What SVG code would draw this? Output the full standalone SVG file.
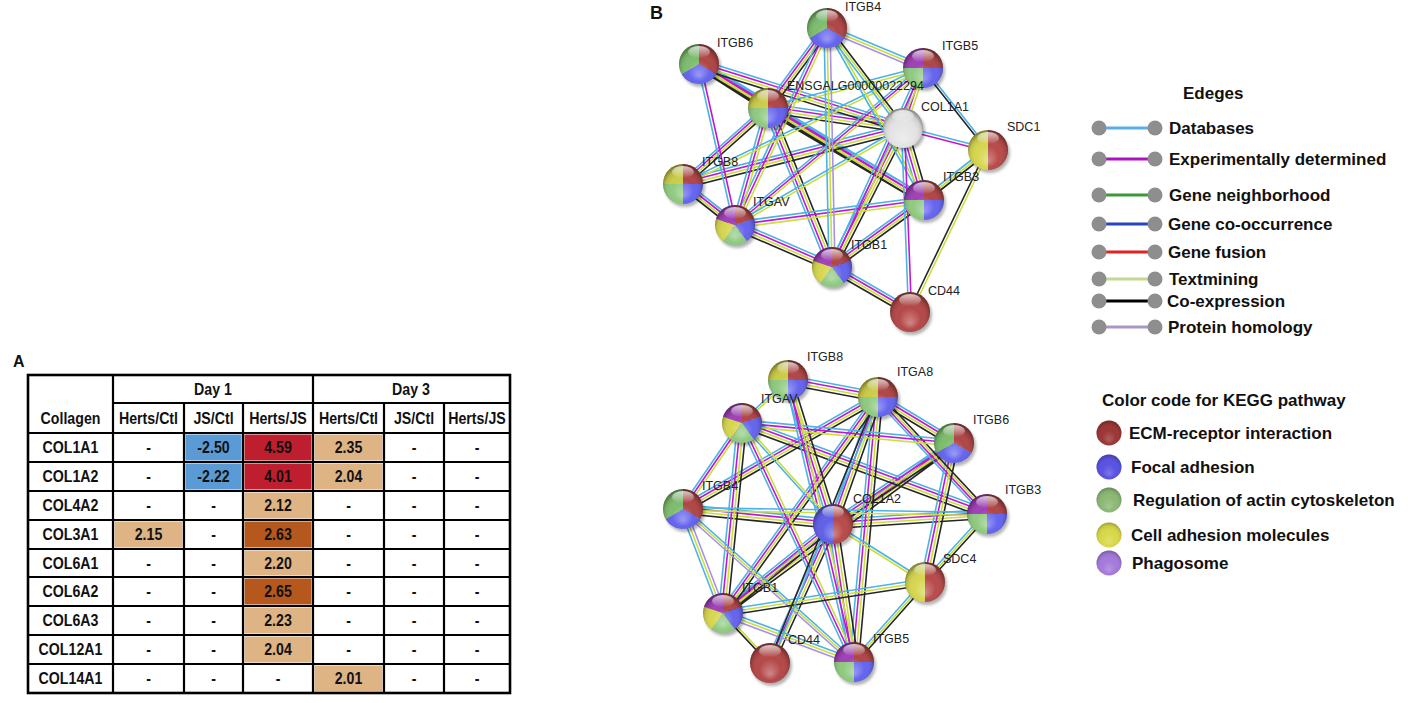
<svg xmlns="http://www.w3.org/2000/svg" xmlns:xlink="http://www.w3.org/1999/xlink" width="1408" height="703" viewBox="0 0 1408 703">
<style>
.t{font-family:"Liberation Sans",Arial,sans-serif;font-weight:bold;font-size:16.5px;fill:#111;text-anchor:middle}
.pl{font-family:"Liberation Sans",Arial,sans-serif;font-weight:bold;fill:#111}
.lg{font-family:"Liberation Sans",Arial,sans-serif;font-weight:bold;font-size:17px;fill:#111}
.nl{font-family:"Liberation Sans",Arial,sans-serif;font-size:12.5px;fill:#222}
.grid{stroke:#000;stroke-width:2.2;fill:none}
.e{fill:none;stroke-width:1.6}
.ec{stroke:#4db2e6}.em{stroke:#c018d2}.ey{stroke:#cadf3c}.ek{stroke:#262626}.el{stroke:#a890ea}
.ld{fill:#8e8e8e}
</style>
<defs>
<filter id="blur" x="-50%" y="-50%" width="200%" height="200%"><feGaussianBlur stdDeviation="1.6"/></filter>
<radialGradient id="shade" cx="50%" cy="55%" r="55%" fx="50%" fy="78%">
<stop offset="0" stop-color="#fff" stop-opacity="0.35"/>
<stop offset="0.5" stop-color="#fff" stop-opacity="0"/>
<stop offset="0.82" stop-color="#000" stop-opacity="0.1"/>
<stop offset="1" stop-color="#000" stop-opacity="0.45"/>
</radialGradient>
<linearGradient id="hl" x1="0" y1="0" x2="0" y2="1">
<stop offset="0" stop-color="#fff" stop-opacity="0.75"/>
<stop offset="1" stop-color="#fff" stop-opacity="0"/>
</linearGradient>
<circle id="sh" cx="2" cy="3" r="20" fill="#000" opacity="0.3" filter="url(#blur)"/>
<g id="gl"><circle r="20" fill="url(#shade)"/><ellipse cx="0" cy="-12" rx="11" ry="6" fill="url(#hl)"/></g>
<g id="n3">
<path fill="#b04646" d="M0,0 L0,-20 A20,20 0 0 1 17.32,10 Z"/>
<path fill="#6464ee" d="M0,0 L17.32,10 A20,20 0 0 1 -17.32,10 Z"/>
<path fill="#7dbd6d" d="M0,0 L-17.32,10 A20,20 0 0 1 0,-20 Z"/>
</g>
<g id="n4y">
<path fill="#cccc48" d="M0,0 L-20,0 A20,20 0 0 1 0,-20 Z"/>
<path fill="#b04646" d="M0,0 L0,-20 A20,20 0 0 1 20,0 Z"/>
<path fill="#6464ee" d="M0,0 L20,0 A20,20 0 0 1 0,20 Z"/>
<path fill="#8fca80" d="M0,0 L0,20 A20,20 0 0 1 -20,0 Z"/>
</g>
<g id="n4p">
<path fill="#a040b8" d="M0,0 L-20,0 A20,20 0 0 1 0,-20 Z"/>
<path fill="#b04646" d="M0,0 L0,-20 A20,20 0 0 1 20,0 Z"/>
<path fill="#6464ee" d="M0,0 L20,0 A20,20 0 0 1 0,20 Z"/>
<path fill="#8fca80" d="M0,0 L0,20 A20,20 0 0 1 -20,0 Z"/>
</g>
<g id="n5">
<path fill="#b04646" d="M0,0 L0,-20 A20,20 0 0 1 19.02,-6.18 Z"/>
<path fill="#6464ee" d="M0,0 L19.02,-6.18 A20,20 0 0 1 11.76,16.18 Z"/>
<path fill="#8fca80" d="M0,0 L11.76,16.18 A20,20 0 0 1 -11.76,16.18 Z"/>
<path fill="#d6d650" d="M0,0 L-11.76,16.18 A20,20 0 0 1 -19.02,-6.18 Z"/>
<path fill="#a040b8" d="M0,0 L-19.02,-6.18 A20,20 0 0 1 0,-20 Z"/>
</g>
<g id="n2y">
<path fill="#d6d650" d="M0,-20 A20,20 0 0 0 0,20 Z"/>
<path fill="#b84a4a" d="M0,-20 A20,20 0 0 1 0,20 Z"/>
</g>
<g id="n2b">
<path fill="#6060e8" d="M0,-20 A20,20 0 0 0 0,20 Z"/>
<path fill="#b84a4a" d="M0,-20 A20,20 0 0 1 0,20 Z"/>
</g>
<circle id="n1" r="20" fill="#b44848"/>
<circle id="nw" r="20" fill="#e4e4e4"/>

<path id="fullH" d="M699,64 L768,108 M699,64 L903,128 M699,64 L924,200 M768,108 L903,128 M768,108 L683,184 M768,108 L924,200 M903,128 L683,184 M683,184 L735,225 M735,225 L832,267 M832,267 L924,200 M832,267 L910,312 M788,380 L878,397 M878,397 L954,443 M878,397 L683,509 M742,423 L987,514 M954,443 L833,524 M954,443 L723,613 M683,509 L833,524 M833,524 L987,514 M833,524 L723,613"/>
<path id="fullV" d="M827,28 L768,108 M768,108 L832,267 M903,128 L924,200 M903,128 L832,267 M788,380 L833,524 M878,397 L987,514 M878,397 L833,524 M878,397 L723,613 M878,397 L854,662 M742,423 L723,613 M954,443 L925,582 M833,524 L770,663 M833,524 L854,662"/>
<path id="cmyH" d="M923,68 L735,225 M735,225 L924,200 M742,423 L954,443"/>
<path id="cmyV" d="M827,28 L735,225 M923,68 L903,128 M923,68 L832,267 M768,108 L735,225 M788,380 L854,662 M742,423 L683,509 M742,423 L854,662"/>
<path id="cyH" d="M923,68 L768,108 M923,68 L683,184 M903,128 L735,225 M788,380 L742,423 M683,509 L987,514 M833,524 L925,582"/>
<path id="cyV" d="M827,28 L924,200 M742,423 L833,524"/>
<path id="cylH" d="M827,28 L923,68 M683,509 L854,662 M723,613 L854,662"/>
<path id="cylV" d="M827,28 L832,267 M683,509 L723,613"/>
<path id="cykH" d="M988,150 L924,200 M925,582 L723,613"/>
<path id="cykV" d="M827,28 L903,128 M987,514 L925,582 M925,582 L854,662"/>
<path id="cmH" d="M903,128 L988,150"/>
<path id="cmV" d="M699,64 L735,225 M903,128 L910,312"/>
<path id="kcV" d="M923,68 L988,150 M878,397 L770,663"/>
<path id="kyV" d="M988,150 L910,312 M723,613 L770,663"/>
</defs>
<rect width="1408" height="703" fill="#fff"/>

<!-- Panel labels -->
<text class="pl" x="13" y="367" font-size="16">A</text>
<text class="pl" x="650" y="19" font-size="18">B</text>

<!-- Table -->
<g id="table">
<g id="cell-fills">
<rect x="185.5" y="434.5" width="56" height="26" fill="#5b9bd5"/>
<rect x="185.5" y="463.5" width="56" height="26" fill="#5b9bd5"/>
<rect x="244.5" y="434.5" width="67" height="26" fill="#be1e2d"/>
<rect x="244.5" y="463.5" width="67" height="26" fill="#be1e2d"/>
<rect x="314.5" y="434.5" width="68" height="26" fill="#deb485"/>
<rect x="314.5" y="463.5" width="68" height="26" fill="#deb485"/>
<rect x="244.5" y="492.5" width="67" height="26" fill="#deb485"/>
<rect x="114.5" y="521.5" width="68" height="26" fill="#deb485"/>
<rect x="244.5" y="521.5" width="67" height="26" fill="#b5581e"/>
<rect x="244.5" y="550.5" width="67" height="25" fill="#deb485"/>
<rect x="244.5" y="578.5" width="67" height="26" fill="#b5581e"/>
<rect x="244.5" y="607.5" width="67" height="26" fill="#deb485"/>
<rect x="244.5" y="636.5" width="67" height="26" fill="#deb485"/>
<rect x="314.5" y="665.5" width="68" height="26" fill="#deb485"/>
</g>
<g id="grid" class="grid">
<rect x="28" y="375" width="482" height="318" stroke-width="2.6"/>
<path d="M113,375 V693 M184,403 V693 M243,403 V693 M313,375 V693 M384,403 V693 M444,403 V693 M113,403 H510 M28,433 H510 M28,462 H510 M28,491 H510 M28,520 H510 M28,549 H510 M28,577 H510 M28,606 H510 M28,635 H510 M28,664 H510"/>
</g>
<g id="table-text" transform="scale(0.86,1)">
<text class="t" x="247.67" y="395">Day 1</text>
<text class="t" x="477.91" y="395">Day 3</text>
<text class="t" x="81.98" y="424">Collagen</text>
<text class="t" x="172.67" y="424">Herts/Ctl</text>
<text class="t" x="248.26" y="424">JS/Ctl</text>
<text class="t" x="323.26" y="424">Herts/JS</text>
<text class="t" x="405.23" y="424">Herts/Ctl</text>
<text class="t" x="481.4" y="424">JS/Ctl</text>
<text class="t" x="554.65" y="424">Herts/JS</text>

<text class="t" x="81.98" y="453.5">COL1A1</text><text class="t" x="172.67" y="453.5">-</text><text class="t" x="248.26" y="453.5">-2.50</text><text class="t" x="323.26" y="453.5">4.59</text><text class="t" x="405.23" y="453.5">2.35</text><text class="t" x="481.4" y="453.5">-</text><text class="t" x="554.65" y="453.5">-</text>
<text class="t" x="81.98" y="482.5">COL1A2</text><text class="t" x="172.67" y="482.5">-</text><text class="t" x="248.26" y="482.5">-2.22</text><text class="t" x="323.26" y="482.5">4.01</text><text class="t" x="405.23" y="482.5">2.04</text><text class="t" x="481.4" y="482.5">-</text><text class="t" x="554.65" y="482.5">-</text>
<text class="t" x="81.98" y="511.5">COL4A2</text><text class="t" x="172.67" y="511.5">-</text><text class="t" x="248.26" y="511.5">-</text><text class="t" x="323.26" y="511.5">2.12</text><text class="t" x="405.23" y="511.5">-</text><text class="t" x="481.4" y="511.5">-</text><text class="t" x="554.65" y="511.5">-</text>
<text class="t" x="81.98" y="540.5">COL3A1</text><text class="t" x="172.67" y="540.5">2.15</text><text class="t" x="248.26" y="540.5">-</text><text class="t" x="323.26" y="540.5">2.63</text><text class="t" x="405.23" y="540.5">-</text><text class="t" x="481.4" y="540.5">-</text><text class="t" x="554.65" y="540.5">-</text>
<text class="t" x="81.98" y="569">COL6A1</text><text class="t" x="172.67" y="569">-</text><text class="t" x="248.26" y="569">-</text><text class="t" x="323.26" y="569">2.20</text><text class="t" x="405.23" y="569">-</text><text class="t" x="481.4" y="569">-</text><text class="t" x="554.65" y="569">-</text>
<text class="t" x="81.98" y="597.5">COL6A2</text><text class="t" x="172.67" y="597.5">-</text><text class="t" x="248.26" y="597.5">-</text><text class="t" x="323.26" y="597.5">2.65</text><text class="t" x="405.23" y="597.5">-</text><text class="t" x="481.4" y="597.5">-</text><text class="t" x="554.65" y="597.5">-</text>
<text class="t" x="81.98" y="626.5">COL6A3</text><text class="t" x="172.67" y="626.5">-</text><text class="t" x="248.26" y="626.5">-</text><text class="t" x="323.26" y="626.5">2.23</text><text class="t" x="405.23" y="626.5">-</text><text class="t" x="481.4" y="626.5">-</text><text class="t" x="554.65" y="626.5">-</text>
<text class="t" x="81.98" y="655.5">COL12A1</text><text class="t" x="172.67" y="655.5">-</text><text class="t" x="248.26" y="655.5">-</text><text class="t" x="323.26" y="655.5">2.04</text><text class="t" x="405.23" y="655.5">-</text><text class="t" x="481.4" y="655.5">-</text><text class="t" x="554.65" y="655.5">-</text>
<text class="t" x="81.98" y="684.5">COL14A1</text><text class="t" x="172.67" y="684.5">-</text><text class="t" x="248.26" y="684.5">-</text><text class="t" x="323.26" y="684.5">-</text><text class="t" x="405.23" y="684.5">2.01</text><text class="t" x="481.4" y="684.5">-</text><text class="t" x="554.65" y="684.5">-</text>
</g>
</g>

<!-- Connectors -->
<g id="connectors">
<use href="#fullH" class="e ec" transform="translate(0,-4.5)"/>
<use href="#fullH" class="e em" transform="translate(0,-1.5)"/>
<use href="#fullH" class="e ey" transform="translate(0,1.5)"/>
<use href="#fullH" class="e ek" transform="translate(0,4.5)"/>
<use href="#fullV" class="e ec" transform="translate(-4.5,0)"/>
<use href="#fullV" class="e em" transform="translate(-1.5,0)"/>
<use href="#fullV" class="e ey" transform="translate(1.5,0)"/>
<use href="#fullV" class="e ek" transform="translate(4.5,0)"/>
<use href="#cmyH" class="e ec" transform="translate(0,-3)"/>
<use href="#cmyH" class="e em"/>
<use href="#cmyH" class="e ey" transform="translate(0,3)"/>
<use href="#cmyV" class="e ec" transform="translate(-3,0)"/>
<use href="#cmyV" class="e em"/>
<use href="#cmyV" class="e ey" transform="translate(3,0)"/>
<use href="#cyH" class="e ec" transform="translate(0,-1.5)"/>
<use href="#cyH" class="e ey" transform="translate(0,1.5)"/>
<use href="#cyV" class="e ec" transform="translate(-1.5,0)"/>
<use href="#cyV" class="e ey" transform="translate(1.5,0)"/>
<use href="#cylH" class="e ec" transform="translate(0,-3)"/>
<use href="#cylH" class="e ey"/>
<use href="#cylH" class="e el" transform="translate(0,3)"/>
<use href="#cylV" class="e ec" transform="translate(-3,0)"/>
<use href="#cylV" class="e ey"/>
<use href="#cylV" class="e el" transform="translate(3,0)"/>
<use href="#cykH" class="e ec" transform="translate(0,-3)"/>
<use href="#cykH" class="e ey"/>
<use href="#cykH" class="e ek" transform="translate(0,3)"/>
<use href="#cykV" class="e ec" transform="translate(-3,0)"/>
<use href="#cykV" class="e ey"/>
<use href="#cykV" class="e ek" transform="translate(3,0)"/>
<use href="#cmH" class="e ec" transform="translate(0,-1.5)"/>
<use href="#cmH" class="e em" transform="translate(0,1.5)"/>
<use href="#cmV" class="e ec" transform="translate(-1.5,0)"/>
<use href="#cmV" class="e em" transform="translate(1.5,0)"/>
<use href="#kcV" class="e ek" transform="translate(-1.5,0)"/>
<use href="#kcV" class="e ec" transform="translate(1.5,0)"/>
<use href="#kyV" class="e ek" transform="translate(-1.5,0)"/>
<use href="#kyV" class="e ey" transform="translate(1.5,0)"/>
</g>

<!-- Top network nodes -->
<g id="t-ITGB4" transform="translate(827,28)"><use href="#sh"/><use href="#n3"/><use href="#gl"/><text class="nl" x="18" y="-17">ITGB4</text></g>
<g id="t-ITGB6" transform="translate(699,64)"><use href="#sh"/><use href="#n3"/><use href="#gl"/><text class="nl" x="18" y="-17">ITGB6</text></g>
<g id="t-ITGB5" transform="translate(923,68)"><use href="#sh"/><use href="#n4p"/><use href="#gl"/><text class="nl" x="19" y="-18">ITGB5</text></g>
<g id="t-ENSGALG00000022294" transform="translate(768,108)"><use href="#sh"/><use href="#n4y"/><use href="#gl"/><text class="nl" x="19" y="-18">ENSGALG00000022294</text></g>
<g id="t-COL1A1" transform="translate(903,128)"><use href="#sh"/><use href="#nw"/><use href="#gl"/><text class="nl" x="18" y="-17">COL1A1</text></g>
<g id="t-SDC1" transform="translate(988,150)"><use href="#sh"/><use href="#n2y"/><use href="#gl"/><text class="nl" x="19" y="-19">SDC1</text></g>
<g id="t-ITGB8" transform="translate(683,184)"><use href="#sh"/><use href="#n4y"/><use href="#gl"/><text class="nl" x="19" y="-18">ITGB8</text></g>
<g id="t-ITGB3" transform="translate(924,200)"><use href="#sh"/><use href="#n4p"/><use href="#gl"/><text class="nl" x="19" y="-19">ITGB3</text></g>
<g id="t-ITGAV" transform="translate(735,225)"><use href="#sh"/><use href="#n5"/><use href="#gl"/><text class="nl" x="18" y="-19">ITGAV</text></g>
<g id="t-ITGB1" transform="translate(832,267)"><use href="#sh"/><use href="#n5"/><use href="#gl"/><text class="nl" x="19" y="-18">ITGB1</text></g>
<g id="t-CD44" transform="translate(910,312)"><use href="#sh"/><use href="#n1"/><use href="#gl"/><text class="nl" x="18" y="-17">CD44</text></g>

<!-- Bottom network nodes -->
<g id="b-ITGB8" transform="translate(788,380)"><use href="#sh"/><use href="#n4y"/><use href="#gl"/><text class="nl" x="19" y="-19">ITGB8</text></g>
<g id="b-ITGA8" transform="translate(878,397)"><use href="#sh"/><use href="#n4y"/><use href="#gl"/><text class="nl" x="19" y="-21">ITGA8</text></g>
<g id="b-ITGAV" transform="translate(742,423)"><use href="#sh"/><use href="#n5"/><use href="#gl"/><text class="nl" x="19" y="-20">ITGAV</text></g>
<g id="b-ITGB6" transform="translate(954,443)"><use href="#sh"/><use href="#n3"/><use href="#gl"/><text class="nl" x="19" y="-19">ITGB6</text></g>
<g id="b-ITGB4" transform="translate(683,509)"><use href="#sh"/><use href="#n3"/><use href="#gl"/><text class="nl" x="19" y="-19">ITGB4</text></g>
<g id="b-COL1A2" transform="translate(833,524)"><use href="#sh"/><use href="#n2b"/><use href="#gl"/><text class="nl" x="20" y="-21">COL1A2</text></g>
<g id="b-ITGB3" transform="translate(987,514)"><use href="#sh"/><use href="#n4p"/><use href="#gl"/><text class="nl" x="18" y="-20">ITGB3</text></g>
<g id="b-SDC4" transform="translate(925,582)"><use href="#sh"/><use href="#n2y"/><use href="#gl"/><text class="nl" x="18" y="-19">SDC4</text></g>
<g id="b-ITGB1" transform="translate(723,613)"><use href="#sh"/><use href="#n5"/><use href="#gl"/><text class="nl" x="19" y="-21">ITGB1</text></g>
<g id="b-CD44" transform="translate(770,663)"><use href="#sh"/><use href="#n1"/><use href="#gl"/><text class="nl" x="18" y="-19">CD44</text></g>
<g id="b-ITGB5" transform="translate(854,662)"><use href="#sh"/><use href="#n4p"/><use href="#gl"/><text class="nl" x="19" y="-19">ITGB5</text></g>

<!-- Edge legend -->
<g id="legend-edges">
<text class="lg" x="1183" y="99">Edeges</text>
<g><line x1="1099" y1="128" x2="1155" y2="128" stroke="#5aaeea" stroke-width="3"/><circle class="ld" cx="1099" cy="128" r="7.5"/><circle class="ld" cx="1155" cy="128" r="7.5"/><text class="lg" x="1169" y="134">Databases</text></g>
<g><line x1="1099" y1="159" x2="1155" y2="159" stroke="#b010c0" stroke-width="3"/><circle class="ld" cx="1099" cy="159" r="7.5"/><circle class="ld" cx="1155" cy="159" r="7.5"/><text class="lg" x="1169" y="165">Experimentally determined</text></g>
<g><line x1="1099" y1="195" x2="1155" y2="195" stroke="#3a9a3a" stroke-width="3"/><circle class="ld" cx="1099" cy="195" r="7.5"/><circle class="ld" cx="1155" cy="195" r="7.5"/><text class="lg" x="1169" y="201">Gene neighborhood</text></g>
<g><line x1="1099" y1="224" x2="1155" y2="224" stroke="#2444c0" stroke-width="3"/><circle class="ld" cx="1099" cy="224" r="7.5"/><circle class="ld" cx="1155" cy="224" r="7.5"/><text class="lg" x="1168" y="230">Gene co-occurrence</text></g>
<g><line x1="1099" y1="252" x2="1155" y2="252" stroke="#e02222" stroke-width="3"/><circle class="ld" cx="1099" cy="252" r="7.5"/><circle class="ld" cx="1155" cy="252" r="7.5"/><text class="lg" x="1168" y="258">Gene fusion</text></g>
<g><line x1="1099" y1="279" x2="1155" y2="279" stroke="#c4d890" stroke-width="3"/><circle class="ld" cx="1099" cy="279" r="7.5"/><circle class="ld" cx="1155" cy="279" r="7.5"/><text class="lg" x="1169" y="285">Textmining</text></g>
<g><line x1="1099" y1="301" x2="1155" y2="301" stroke="#000" stroke-width="3"/><circle class="ld" cx="1099" cy="301" r="7.5"/><circle class="ld" cx="1155" cy="301" r="7.5"/><text class="lg" x="1167" y="307">Co-expression</text></g>
<g><line x1="1099" y1="327" x2="1155" y2="327" stroke="#a898c8" stroke-width="3"/><circle class="ld" cx="1099" cy="327" r="7.5"/><circle class="ld" cx="1155" cy="327" r="7.5"/><text class="lg" x="1168" y="333">Protein homology</text></g>
</g>

<!-- KEGG legend -->
<g id="legend-kegg">
<text class="lg" x="1102" y="406">Color code for KEGG pathway</text>
<g><circle cx="1109" cy="433" r="12.5" fill="#9c3636"/><circle cx="1109" cy="433" r="12.5" fill="url(#shade)" opacity="0.6"/><text class="lg" x="1129" y="439">ECM-receptor interaction</text></g>
<g><circle cx="1109" cy="467" r="12.5" fill="#5a52e2"/><circle cx="1109" cy="467" r="12.5" fill="url(#shade)" opacity="0.6"/><text class="lg" x="1131" y="473">Focal adhesion</text></g>
<g><circle cx="1109" cy="500" r="12.5" fill="#8cb874"/><circle cx="1109" cy="500" r="12.5" fill="url(#shade)" opacity="0.6"/><text class="lg" x="1133" y="506">Regulation of actin cytoskeleton</text></g>
<g><circle cx="1109" cy="535" r="12.5" fill="#d8d848"/><circle cx="1109" cy="535" r="12.5" fill="url(#shade)" opacity="0.6"/><text class="lg" x="1131" y="541">Cell adhesion molecules</text></g>
<g><circle cx="1109" cy="563" r="12.5" fill="#a47ada"/><circle cx="1109" cy="563" r="12.5" fill="url(#shade)" opacity="0.6"/><text class="lg" x="1132" y="569">Phagosome</text></g>
</g>
</svg>
